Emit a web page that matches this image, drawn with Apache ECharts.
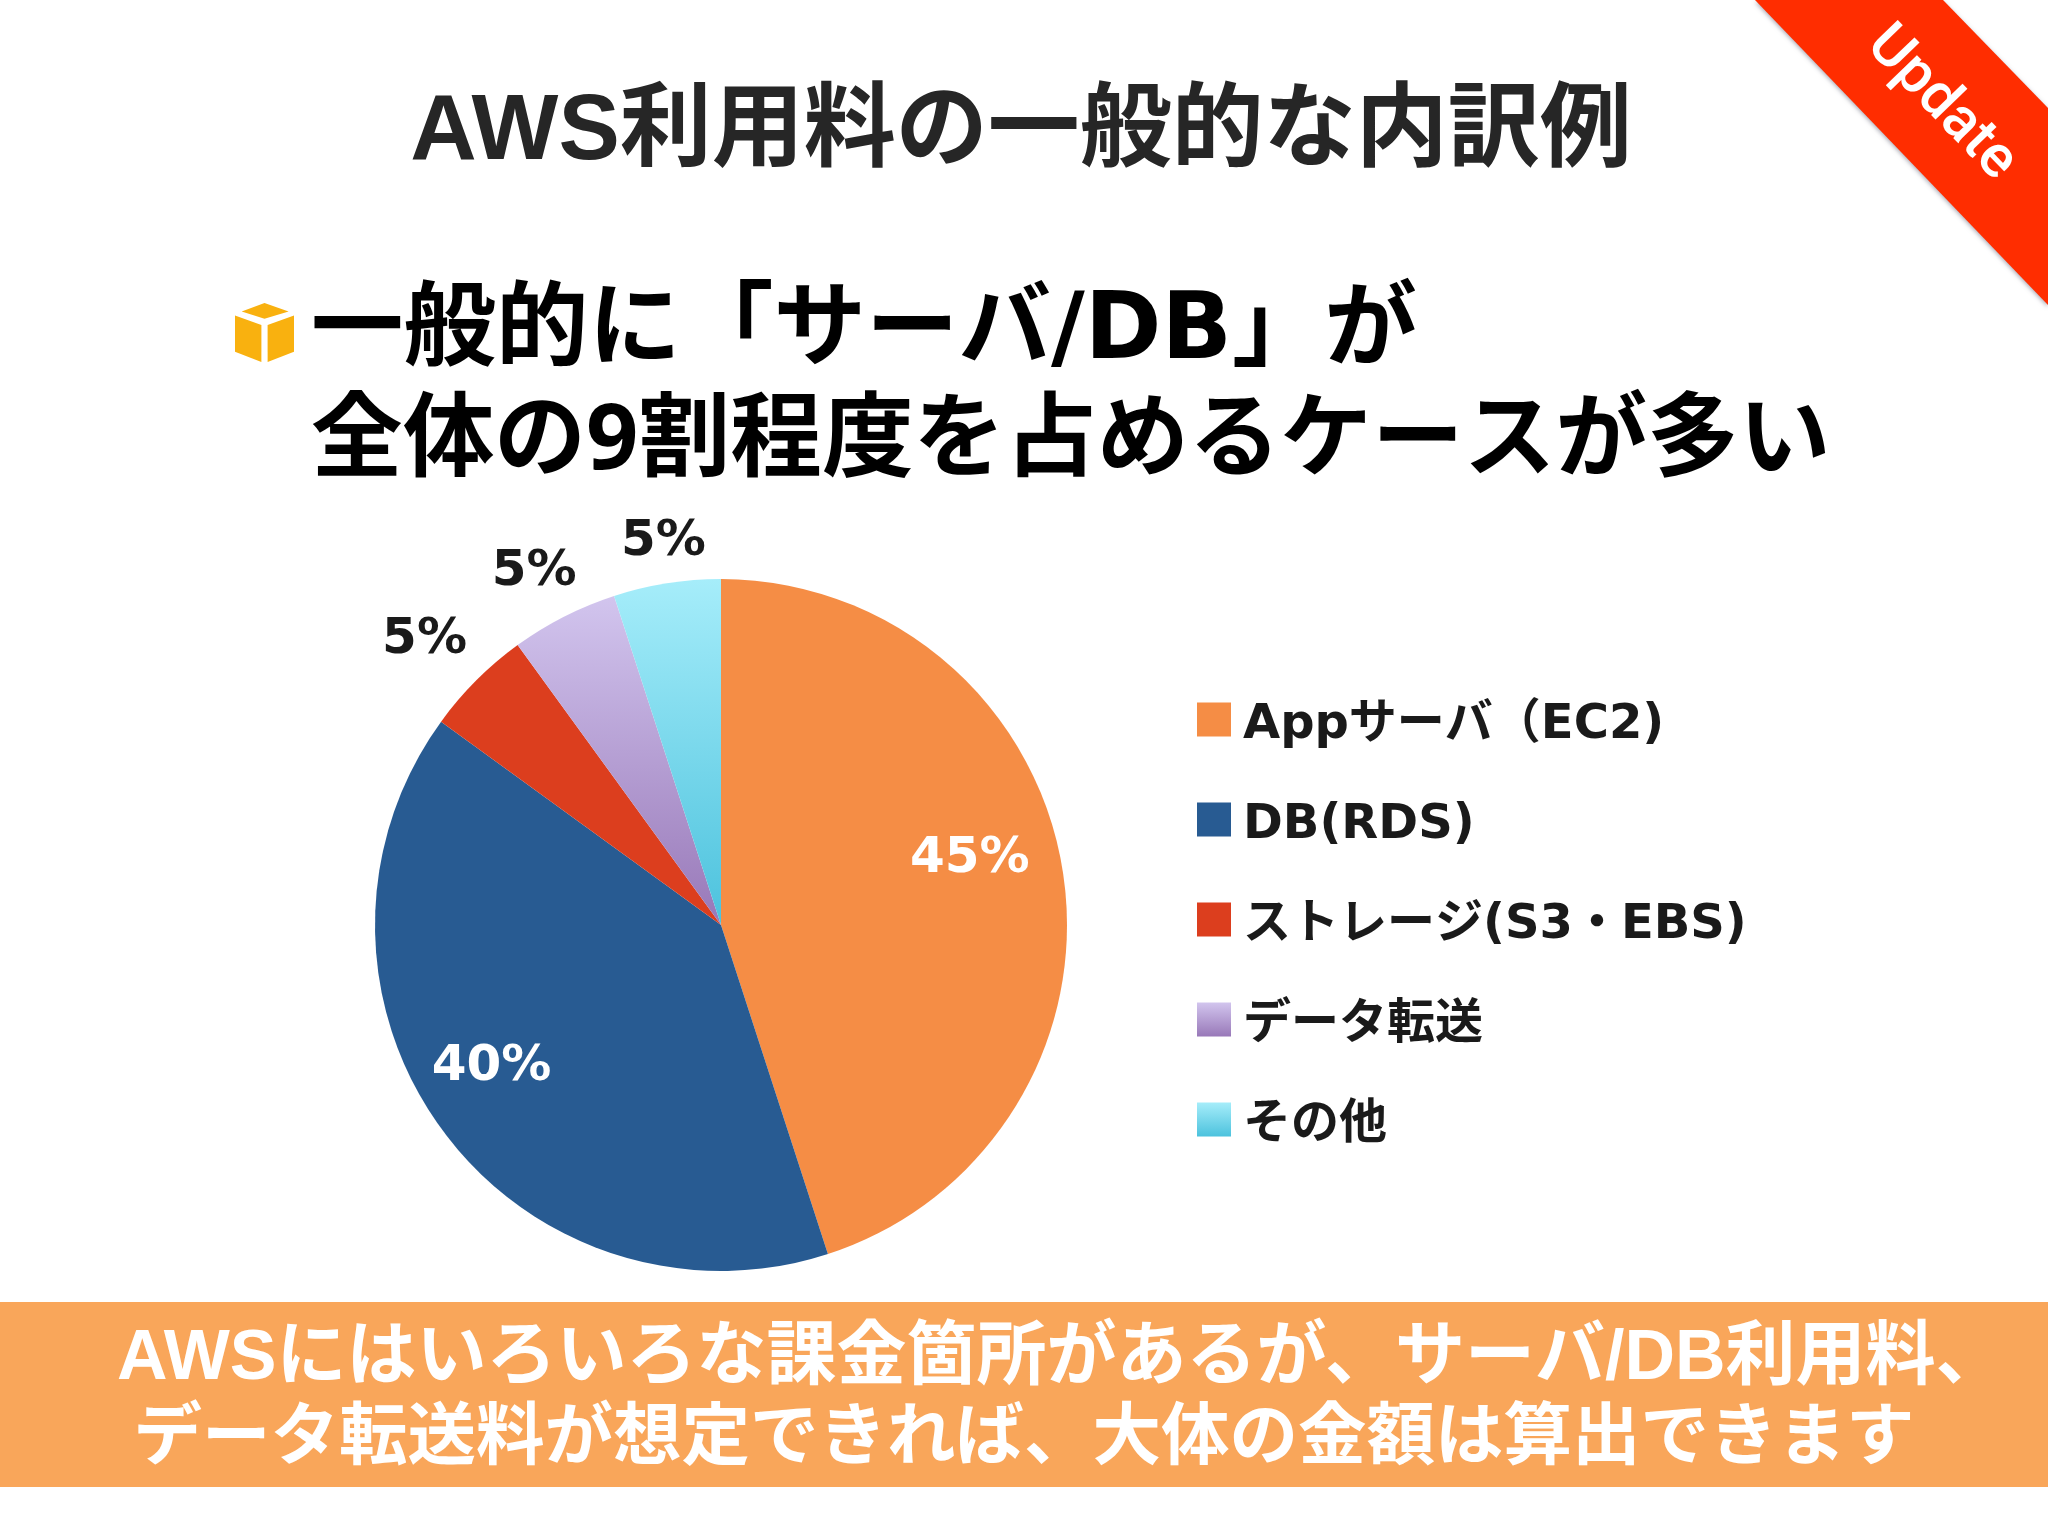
<!DOCTYPE html>
<html lang="ja">
<head>
  <meta charset="UTF-8">
  <title>AWS利用料の一般的な内訳例</title>
  <script src="https://cdn.jsdelivr.net/npm/echarts@6/dist/echarts.min.js"></script>
  <style>
    html, body { margin: 0; padding: 0; background: #fff; }
    #main { width: 2048px; height: 1536px; }
  </style>
</head>
<body>
  <div id="main"></div>

  <script>
  const categories = ['Appサーバ（EC2)', 'DB(RDS)', 'ストレージ(S3・EBS)', 'データ転送', 'その他'];
  const shares = [45, 40, 5, 5, 5];

  const titleText = 'AWS利用料の一般的な内訳例';
  const headingLines = ['一般的に「サーバ/DB」が', '全体の9割程度を占めるケースが多い'];
  const bannerLines = [
    'AWSにはいろいろな課金箇所があるが、サーバ/DB利用料、',
    'データ転送料が想定できれば、大体の金額は算出できます'
  ];
  const ribbonText = 'Update';

  const vertical = (top, bottom) => ({
    type: 'linear', x: 0, y: 0, x2: 0, y2: 1,
    colorStops: [{ offset: 0, color: top }, { offset: 1, color: bottom }]
  });
  const sliceColors = [
    '#F58D45',
    '#285B92',
    '#DC3E1E',
    vertical('#D2C5EE', '#9878B8'),
    vertical('#A6EDFA', '#4CC2DD')
  ];
  // label nudges from the slice's inside anchor
  const labelShift = [[75, -38], [-87, 39], [-172, -161], [-107, -196], [-30, -209]];
  const labelColors = ['#fff', '#fff', '#1a1a1a', '#1a1a1a', '#1a1a1a'];

  const notoFont = '"Noto Sans", "Noto Sans CJK JP", sans-serif';
  const heliFont = '"Liberation Sans", "Noto Sans CJK JP", sans-serif';
  const wideFont = '"DejaVu Sans", "Noto Sans CJK JP", sans-serif';

  const textEl = (text, x, y, size, fill, family, align) => ({
    type: 'text',
    x, y,
    style: {
      text, fill,
      font: `bold ${size}px ${family}`,
      textAlign: align || 'left',
      textVerticalAlign: 'middle'
    }
  });
  const cube = (points) => ({ type: 'polygon', shape: { points }, style: { fill: '#F9B10F' } });

  const myChart = echarts.init(document.getElementById('main'), null, { renderer: 'canvas' });
  myChart.setOption({
    animation: false,
    backgroundColor: '#fff',
    legend: {
      orient: 'vertical',
      left: 1192,
      top: 697,
      itemWidth: 34,
      itemHeight: 34,
      itemGap: 52,
      icon: 'rect',
      data: categories,
      formatter: (name) => `{t|${name}}`,
      textStyle: {
        rich: {
          t: {
            fontFamily: wideFont,
            fontWeight: 'bold',
            fontSize: 48,
            color: '#1a1a1a',
            padding: [13, 0, 0, 7]
          }
        }
      }
    },
    series: [{
      type: 'pie',
      center: [721, 925],
      radius: [0, 346],
      startAngle: 90,
      clockwise: true,
      silent: true,
      data: categories.map((name, i) => ({
        name,
        value: shares[i],
        itemStyle: { color: sliceColors[i] },
        label: { color: labelColors[i] }
      })),
      label: {
        position: 'inside',
        formatter: '{d}%',
        fontFamily: wideFont,
        fontWeight: 'bold',
        fontSize: 50
      },
      labelLine: { show: false },
      labelLayout: (p) => ({ dx: labelShift[p.dataIndex][0], dy: labelShift[p.dataIndex][1] })
    }],
    graphic: [
      textEl(titleText, 1021, 134, 92, '#262626', heliFont, 'center'),

      cube([[264.5, 303], [288.6, 311.4], [264.5, 318.8], [241.7, 311.4]]),
      cube([[235, 315.5], [261.4, 325], [261.4, 362], [235, 351.8]]),
      cube([[267.6, 325], [294, 315.5], [294, 351.8], [267.6, 362]]),

      textEl(headingLines[0], 311, 334, 92.5, '#000', wideFont),
      textEl(headingLines[1], 311, 443, 91.7, '#000', notoFont),

      { type: 'rect', shape: { x: 0, y: 1302, width: 2048, height: 185 }, style: { fill: '#F9A65A' } },
      textEl(bannerLines[0], 117, 1360, 70, '#fff', heliFont),
      textEl(bannerLines[1], 1024, 1439, 68.5, '#fff', notoFont, 'center'),

      {
        type: 'polygon',
        shape: { points: [[1755, 0], [1943, 0], [2048, 108], [2048, 305]] },
        style: { fill: '#FF2D00', shadowBlur: 4, shadowColor: 'rgba(90,90,110,0.5)', shadowOffsetY: 2 }
      },
      {
        type: 'text',
        x: 1941,
        y: 104,
        rotation: -46 * Math.PI / 180,
        style: {
          text: ribbonText,
          fill: '#fff',
          font: '500 59px Roboto, sans-serif',
          textAlign: 'center',
          textVerticalAlign: 'middle'
        }
      }
    ]
  });
  </script>
</body>
</html>
